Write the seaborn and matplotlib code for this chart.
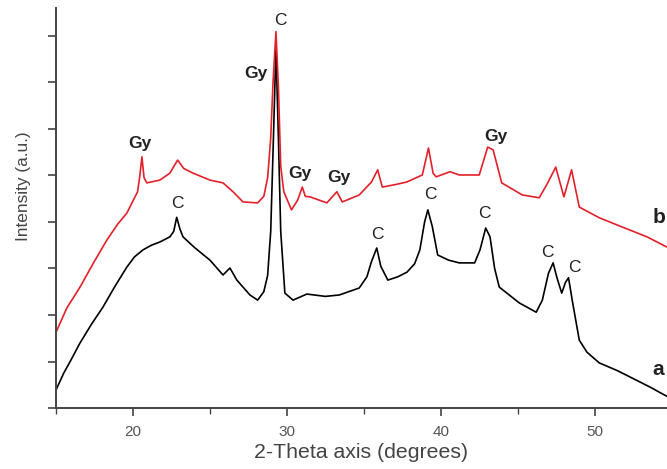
import pandas as pd
import seaborn as sns
import matplotlib.pyplot as plt
from matplotlib.ticker import MultipleLocator, NullFormatter

# pattern a (black)
theta_a = [15.0, 15.5, 16.0, 16.56, 17.3, 18.05, 18.8, 19.6, 20.1, 20.65, 21.2, 21.75,
           22.4, 22.65, 22.84, 23.05, 23.25, 24.0, 25.0, 25.85, 26.3, 26.75, 27.6, 28.1,
           28.5, 28.75, 28.95, 29.1, 29.29, 29.45, 29.6, 29.87, 30.4, 31.3, 32.5, 33.4,
           34.7, 35.2, 35.5, 35.84, 36.1, 36.56, 37.2, 37.8, 38.3, 38.64, 38.95, 39.16,
           39.45, 39.8, 40.5, 41.2, 42.2, 42.55, 42.92, 43.2, 43.5, 43.8, 45.1, 46.2,
           46.6, 47.0, 47.3, 47.55, 47.86, 48.1, 48.3, 48.55, 49.0, 49.5, 50.3, 51.5,
           52.7, 53.6, 54.7]
int_a = [0.39, 0.75, 1.05, 1.40, 1.80, 2.17, 2.60, 3.03, 3.25, 3.40, 3.50, 3.57,
         3.68, 3.80, 4.10, 3.85, 3.68, 3.45, 3.18, 2.86, 3.01, 2.75, 2.43, 2.32,
         2.50, 2.85, 3.80, 5.50, 7.75, 5.80, 3.80, 2.47, 2.32, 2.45, 2.40, 2.43,
         2.58, 2.82, 3.15, 3.44, 3.05, 2.75, 2.82, 2.92, 3.10, 3.40, 4.00, 4.26,
         3.90, 3.29, 3.18, 3.12, 3.12, 3.40, 3.87, 3.68, 3.00, 2.60, 2.26, 2.06,
         2.32, 2.90, 3.12, 2.80, 2.47, 2.70, 2.80, 2.30, 1.46, 1.20, 0.97, 0.80,
         0.60, 0.45, 0.25]

# pattern b (red)
theta_b = [15.0, 15.7, 16.56, 17.4, 18.3, 19.0, 19.6, 20.3, 20.45, 20.58, 20.72, 20.9,
           21.75, 22.4, 22.9, 23.3, 23.9, 25.0, 25.85, 26.5, 27.15, 28.1, 28.5, 28.75,
           28.95, 29.1, 29.29, 29.45, 29.6, 29.8, 30.3, 30.7, 31.0, 31.2, 31.5, 32.6,
           33.25, 33.6, 34.7, 35.5, 35.9, 36.2, 37.0, 37.8, 38.8, 39.2, 39.5, 39.7,
           40.6, 41.2, 42.5, 43.05, 43.4, 43.96, 45.3, 46.4, 46.95, 47.47, 48.0, 48.5,
           49.0, 50.3, 51.8, 53.4, 54.7]
int_b = [1.63, 2.15, 2.60, 3.10, 3.61, 3.95, 4.19, 4.65, 5.00, 5.40, 4.95, 4.84,
         4.90, 5.05, 5.33, 5.15, 5.05, 4.90, 4.84, 4.65, 4.43, 4.41, 4.55, 4.95,
         5.80, 7.00, 8.09, 6.90, 5.20, 4.65, 4.26, 4.47, 4.75, 4.55, 4.54, 4.41,
         4.65, 4.43, 4.58, 4.86, 5.12, 4.75, 4.80, 4.86, 5.01, 5.59, 5.05, 4.97,
         5.08, 5.01, 5.01, 5.61, 5.55, 4.84, 4.58, 4.52, 4.84, 5.18, 4.54, 5.12,
         4.32, 4.09, 3.89, 3.68, 3.46]

# peak labels: (text, x, y)
peak_labels = ["C", "Gy", "Gy", "Gy", "Gy", "Gy",
               "C", "C", "C", "C", "C", "C"]
label_x = [29.55, 28.0, 20.45, 30.85, 33.4, 43.6,
           22.9, 35.85, 39.3, 42.85, 46.95, 48.7]
label_y = [8.34, 7.2, 5.68, 5.05, 4.95, 5.83,
           4.4, 3.72, 4.58, 4.19, 3.35, 3.03]

df = pd.concat([
    pd.DataFrame({"theta": theta_a, "intensity": int_a, "sample": "a"}),
    pd.DataFrame({"theta": theta_b, "intensity": int_b, "sample": "b"}),
])

sns.set_style("ticks")
plt.rcParams["font.family"] = ["Liberation Sans", "DejaVu Sans"]

fig = plt.figure(figsize=(6.67, 4.69), dpi=100)
ax = fig.add_axes([0.084, 0.130, 0.916, 0.853])

sns.lineplot(data=df, x="theta", y="intensity", hue="sample",
             palette={"a": "black", "b": "#e4202a"}, estimator=None,
             sort=False, linewidth=1.2, legend=False, ax=ax)

for t, x, y in zip(peak_labels, label_x, label_y):
    ax.text(x, y, t, ha="center", va="center", fontsize=12.5,
            fontweight="bold" if t == "Gy" else "normal", color="#222222")
ax.text(54.2, 4.1, "b", ha="center", va="center", fontsize=15, fontweight="bold", color="#222222")
ax.text(54.1, 0.82, "a", ha="center", va="center", fontsize=15, fontweight="bold", color="#222222")

ax.set_xlim(15, 54.7)
ax.set_ylim(0, 8.6)
ax.xaxis.set_major_locator(MultipleLocator(10))
ax.xaxis.set_minor_locator(MultipleLocator(5))
ax.xaxis.set_minor_formatter(NullFormatter())
ax.yaxis.set_major_locator(MultipleLocator(1))
ax.set_yticklabels([])
ax.tick_params(axis="both", which="major", length=6, width=1.2, color="#444444",
               labelsize=11, labelcolor="#555555", pad=6)
ax.tick_params(axis="both", which="minor", length=4, width=1.0, color="#444444")

ax.set_xlabel("2-Theta axis (degrees)", fontsize=15.3, color="#444444", labelpad=3)
ax.set_ylabel("Intensity (a.u.)", fontsize=12.4, color="#444444")
ax.yaxis.set_label_coords(-0.041, 0.555)

sns.despine(ax=ax)
for s in ["left", "bottom"]:
    ax.spines[s].set_linewidth(1.4)
    ax.spines[s].set_color("#444444")

fig.savefig("out.png", dpi=100)
plt.close(fig)
